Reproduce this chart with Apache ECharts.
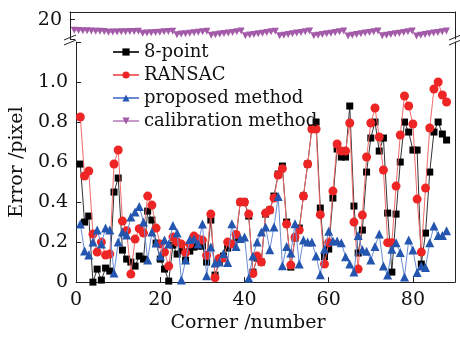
<!DOCTYPE html>
<html>
<head>
<meta charset="utf-8">
<script src="https://cdn.jsdelivr.net/npm/echarts@6/dist/echarts.min.js"></script>
<style>html,body{margin:0;padding:0;background:#fff}#c{width:460px;height:338px}</style>
</head>
<body>
<div id="c"></div>
<script>
const seriesNames = ['8-point', 'RANSAC', 'proposed method', 'calibration method'];
const xTicks = [0, 20, 40, 60, 80];
const yTicksLower = [0, 0.2, 0.4, 0.6, 0.8, 1.0];
const yTicksUpper = [20];

const eightPoint = [0.59,0.30,0.33,0.00,0.065,0.01,0.07,0.055,0.45,0.52,
0.16,0.115,0.10,0.08,0.13,0.115,0.355,0.31,0.195,0.115,
0.065,0.005,0.185,0.14,0.16,0.11,0.155,0.175,0.18,0.18,
0.10,0.31,0.035,0.10,0.13,0.17,0.19,0.22,0.40,0.40,
0.33,0.05,0.12,0.10,0.34,0.36,0.43,0.54,0.58,0.30,
0.075,0.22,0.27,0.43,0.59,0.77,0.80,0.37,0.127,0.165,
0.42,0.665,0.625,0.625,0.88,0.38,0.145,0.26,0.55,0.72,
0.80,0.655,0.72,0.345,0.05,0.34,0.60,0.80,0.75,0.66,
0.66,0.09,0.245,0.55,0.75,0.80,0.74,0.71];

const ransac = [0.825,0.53,0.555,0.24,0.15,0.20,0.135,0.14,0.59,0.66,
0.305,0.257,0.04,0.215,0.267,0.245,0.43,0.385,0.27,0.19,
0.15,0.08,0.225,0.20,0.19,0.147,0.19,0.23,0.215,0.21,
0.133,0.34,0.022,0.118,0.12,0.20,0.19,0.238,0.40,0.40,
0.34,0.043,0.13,0.10,0.345,0.36,0.42,0.535,0.567,0.29,
0.085,0.225,0.26,0.43,0.59,0.765,0.765,0.337,0.09,0.197,
0.455,0.69,0.655,0.655,0.795,0.30,0.065,0.335,0.625,0.795,
0.87,0.725,0.56,0.197,0.197,0.48,0.735,0.93,0.88,0.79,
0.415,0.15,0.47,0.77,0.965,1.0,0.935,0.90];

const proposed = [0.29,0.155,0.135,0.20,0.26,0.19,0.27,0.26,0.045,0.20,
0.25,0.235,0.325,0.35,0.378,0.30,0.11,0.25,0.195,0.13,
0.21,0.19,0.283,0.245,0.01,0.11,0.213,0.216,0.19,0.29,
0.032,0.175,0.095,0.10,0.143,0.098,0.292,0.178,0.218,0.225,
0.02,0.13,0.20,0.25,0.276,0.162,0.276,0.428,0.082,0.178,
0.146,0.292,0.09,0.21,0.20,0.20,0.13,0.037,0.164,0.254,
0.206,0.206,0.197,0.127,0.09,0.05,0.233,0.162,0.154,0.11,
0.178,0.24,0.08,0.035,0.164,0.197,0.148,0.026,0.21,0.16,
0.048,0.08,0.073,0.197,0.28,0.233,0.233,0.257];

const calibration = [18.35,18.32,18.30,18.27,18.25,18.22,18.20,18.18,
18.06,18.08,18.09,18.12,18.13,18.16,18.17,18.20,
17.88,17.93,17.97,18.02,18.06,18.11,18.15,18.20,
17.68,17.76,17.83,17.91,17.99,18.06,18.14,18.22,
17.58,17.67,17.76,17.85,17.94,18.03,18.12,18.23,
17.51,17.61,17.71,17.81,17.91,18.01,18.11,18.22,
17.50,17.60,17.71,17.81,17.92,18.02,18.13,18.24,
17.49,17.60,17.70,17.81,17.91,18.02,18.13,18.24,
17.48,17.59,17.70,17.81,17.92,18.03,18.14,18.25,
17.49,17.60,17.70,17.81,17.91,18.02,18.13,18.24,
17.48,17.59,17.70,17.81,17.92,18.03,18.14,18.26];

const corners = eightPoint.map((_, i) => i + 1);
const pairs = arr => arr.map((v, i) => [corners[i], v]);

const FONT = 'DejaVu Serif';
const txt = {fontFamily: FONT, fontSize: 18, color: '#111'};
const axTxt = {fontFamily: FONT, fontSize: 19, color: '#111'};
const axLine = {show: true, lineStyle: {color: '#222', width: 1}};

const chart = echarts.init(document.getElementById('c'), null, {renderer: 'canvas'});

function brk(x, y) {
  return {type: 'line', shape: {x1: x - 6, y1: y + 2, x2: x + 6, y2: y - 3},
          style: {stroke: '#222', lineWidth: 1}, z: 100};
}

chart.setOption({
  animation: false,
  backgroundColor: '#fff',
  grid: [
    {left: 70, right: 5, top: 12, height: 27},
    {left: 70, right: 5, top: 42, bottom: 44}
  ],
  xAxis: [
    {gridIndex: 0, type: 'value', min: 0, max: 90, position: 'top',
     axisLine: axLine, axisTick: {show: false}, axisLabel: {show: false}, splitLine: {show: false}},
    {gridIndex: 1, type: 'value', min: 0, max: 90, interval: 20, position: 'bottom',
     axisLine: axLine, axisTick: {show: true, inside: true, length: 5, lineStyle: {color: '#222'}},
     axisLabel: Object.assign({margin: 8, showMaxLabel: false,
       formatter: v => xTicks.includes(v) ? String(v) : ''}, axTxt),
     splitLine: {show: false},
     name: 'Corner /number', nameLocation: 'middle', nameGap: 28,
     nameTextStyle: Object.assign({padding: [0, 35, 0, 0]}, axTxt)}
  ],
  yAxis: [
    {gridIndex: 0, type: 'value', min: 17, max: 21.2, interval: 3, position: 'left',
     axisLine: axLine, axisTick: {show: true, inside: true, length: 5, lineStyle: {color: '#222'}},
     axisLabel: Object.assign({margin: 8, formatter: v => yTicksUpper.includes(v) ? String(v) : ''}, axTxt),
     splitLine: {show: false}},
    {gridIndex: 0, type: 'value', min: 17, max: 21.2, position: 'right',
     axisLine: axLine, axisTick: {show: false}, axisLabel: {show: false}, splitLine: {show: false}},
    {gridIndex: 1, type: 'value', min: 0, max: 1.2, interval: 0.2, position: 'left',
     axisLine: axLine, axisTick: {show: true, inside: true, length: 5, lineStyle: {color: '#222'}},
     axisLabel: Object.assign({margin: 8, formatter: v => {
        const t = yTicksLower.find(a => Math.abs(a - v) < 1e-6);
        return t === undefined ? '' : (t === 0 ? '0' : t.toFixed(1));
     }}, axTxt),
     splitLine: {show: false},
     name: 'Error /pixel', nameLocation: 'middle', nameGap: 41, nameRotate: 90,
     nameTextStyle: axTxt},
    {gridIndex: 1, type: 'value', min: 0, max: 1.2, position: 'right',
     axisLine: axLine, axisTick: {show: false}, axisLabel: {show: false}, splitLine: {show: false}}
  ],
  legend: {
    orient: 'vertical', left: 107, top: 38, itemWidth: 26, itemHeight: 9, itemGap: 5,
    textStyle: txt, data: seriesNames, selectedMode: false
  },
  series: [
    {name: seriesNames[0], type: 'line', xAxisIndex: 1, yAxisIndex: 2, data: pairs(eightPoint),
     symbol: 'rect', symbolSize: 7, itemStyle: {color: '#000'},
     lineStyle: {color: '#333', width: 1}, z: 2},
    {name: seriesNames[1], type: 'line', xAxisIndex: 1, yAxisIndex: 2, data: pairs(ransac),
     symbol: 'circle', symbolSize: 9, itemStyle: {color: '#ee2525'},
     lineStyle: {color: '#f26a6a', width: 1}, z: 3},
    {name: seriesNames[2], type: 'line', xAxisIndex: 1, yAxisIndex: 2, data: pairs(proposed),
     symbol: 'triangle', symbolSize: 9, itemStyle: {color: '#2456b0'},
     lineStyle: {color: '#6a8cd6', width: 1}, z: 4},
    {name: seriesNames[3], type: 'line', xAxisIndex: 0, yAxisIndex: 0, data: pairs(calibration),
     symbol: 'triangle', symbolRotate: 180, symbolSize: 7, itemStyle: {color: '#a35aa8'},
     lineStyle: {color: '#c89acb', width: 1}, z: 5}
  ],
  graphic: [brk(70, 38), brk(70, 43), brk(455, 38), brk(455, 43)]
});
</script>
</body>
</html>
